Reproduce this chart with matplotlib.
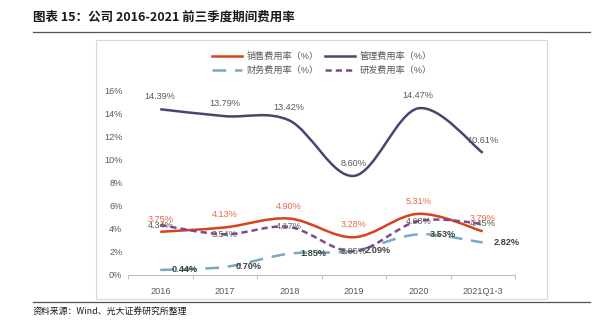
import matplotlib
matplotlib.use("Agg")
from matplotlib import pyplot as plt
from matplotlib.path import Path
from matplotlib.patches import PathPatch, Rectangle
from matplotlib.lines import Line2D
import numpy as np

plt.rcParams['font.family'] = ['Liberation Sans', 'Noto Sans CJK SC', 'DejaVu Sans']

# data
years = ['2016', '2017', '2018', '2019', '2020', '2021Q1-3']
sales = [3.75, 4.13, 4.90, 3.28, 5.31, 3.79]
admin = [14.39, 13.79, 13.42, 8.60, 14.47, 10.61]
finance = [0.44, 0.70, 1.85, 2.09, 3.53, 2.82]
rnd = [4.34, 3.54, 4.17, 2.05, 4.68, 4.45]


def smooth_path(xs, ys):
    # excel-like smoothed line: cubic bezier through every point
    pts = list(zip(xs, ys))
    verts = [pts[0]]
    codes = [Path.MOVETO]
    n = len(pts)
    for i in range(n - 1):
        p0 = np.array(pts[max(i - 1, 0)])
        p1 = np.array(pts[i])
        p2 = np.array(pts[i + 1])
        p3 = np.array(pts[min(i + 2, n - 1)])
        c1 = p1 + (p2 - p0) / 6
        c2 = p2 - (p3 - p1) / 6
        verts += [tuple(c1), tuple(c2), tuple(p2)]
        codes += [Path.CURVE4] * 3
    return Path(verts, codes)


fig = plt.figure(figsize=(6.03, 3.31), dpi=100)

# title, rules and source
fig.text(33 / 603, 1 - 17 / 331, '图表 15：公司 2016-2021 前三季度期间费用率', fontsize=9,
         fontweight='bold', family=['Noto Sans CJK SC'], va='center', ha='left', color='#1a1a1a')
fig.add_artist(Line2D([33 / 603, 590 / 603], [1 - 32 / 331] * 2, color='#555555', lw=0.9))
fig.add_artist(Line2D([33 / 603, 590 / 603], [1 - 302 / 331] * 2, color='#555555', lw=0.9))
fig.text(33 / 603, 1 - 312 / 331, '资料来源：Wind、光大证券研究所整理', fontsize=6.4,
         family=['Noto Sans CJK SC'], va='center', ha='left', color='#1a1a1a')
fig.add_artist(Rectangle((96 / 603, 1 - 299 / 331), 451 / 603, 259 / 331, fill=False,
                         edgecolor='#d9d9d9', lw=0.8, transform=fig.transFigure))

ax = fig.add_axes([128 / 603, 1 - 275 / 331, 387 / 603, 184.3 / 331])
x = np.arange(len(years))

styles = [
    (sales, '#d5421c', '-', '销售费用率（%）'),
    (admin, '#48466e', '-', '管理费用率（%）'),
    (finance, '#75aac2', (0, (5.5, 3.5)), '财务费用率（%）'),
    (rnd, '#7d4b8c', (0, (2.5, 1.6)), '研发费用率（%）'),
]
handles = {}
for vals, col, ls, name in styles:
    patch = PathPatch(smooth_path(x, vals), fill=False, edgecolor=col, lw=1.8,
                      linestyle=ls, capstyle='butt')
    ax.add_patch(patch)
    handles[name] = Line2D([], [], color=col, lw=1.8, linestyle=ls, label=name)

fs = 6.6
for i in range(len(years)):
    ax.annotate(f'{rnd[i]:.2f}%', (x[i], rnd[i]), ha='center', va='center',
                fontsize=fs, color='#595959')
    ax.annotate(f'{finance[i]:.2f}%', (x[i], finance[i]), xytext=(8, 0), textcoords='offset points',
                ha='left', va='center', fontsize=fs, color='#404040', fontweight='bold')
    ax.annotate(f'{sales[i]:.2f}%', (x[i], sales[i]), xytext=(0, 9), textcoords='offset points',
                ha='center', va='center', fontsize=fs, color='#e8694a')
    ax.annotate(f'{admin[i]:.2f}%', (x[i], admin[i]), xytext=(0, 9), textcoords='offset points',
                ha='center', va='center', fontsize=fs, color='#595959')

ax.set_xlim(-0.5, len(years) - 0.5)
ax.set_ylim(0, 16)
ax.set_yticks(np.arange(0, 17, 2))
ax.set_yticklabels([f'{v}%' for v in range(0, 17, 2)])
ax.set_xticks(x)
ax.set_xticklabels(years)
ax.set_xticks(np.arange(-0.5, len(years), 1), minor=True)
ax.tick_params(axis='x', which='major', length=0, pad=9, labelsize=fs, labelcolor='#595959')
ax.tick_params(axis='x', which='minor', length=3, color='#bfbfbf', width=0.8)
ax.tick_params(axis='y', length=0, pad=4, labelsize=fs, labelcolor='#595959')
for s in ['top', 'right', 'left']:
    ax.spines[s].set_visible(False)
ax.spines['bottom'].set_color('#bfbfbf')
ax.spines['bottom'].set_linewidth(0.8)
ax.set_facecolor('none')

# legend fills column by column: order so rows read sales/admin, finance/rnd
order = ['销售费用率（%）', '财务费用率（%）', '管理费用率（%）', '研发费用率（%）']
fig.legend(handles=[handles[k] for k in order], ncol=2, loc='center',
           bbox_to_anchor=(322 / 603, 1 - 63.5 / 331),
           frameon=False, fontsize=fs, handlelength=3.3, columnspacing=0.7,
           labelspacing=0.55, handletextpad=0.5, labelcolor='#595959')

fig.savefig('out.png', dpi=100)
